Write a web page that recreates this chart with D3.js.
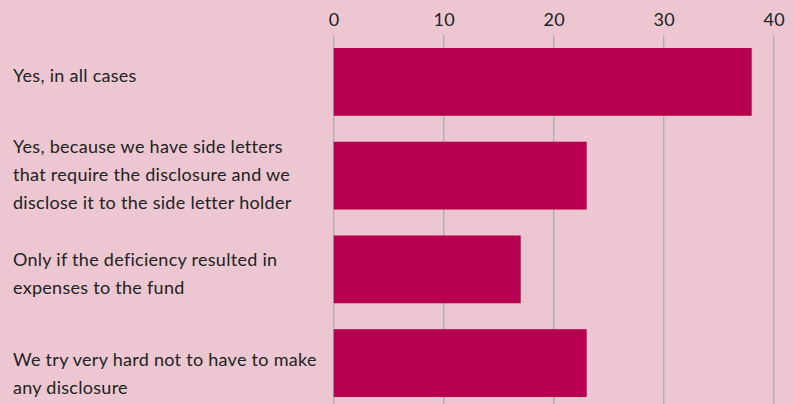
<!DOCTYPE html>
<html><head><meta charset="utf-8">
<script src="https://cdn.jsdelivr.net/npm/d3@7"></script>
<style>html,body{margin:0;padding:0;background:#ecc7d1;}svg{display:block;}</style>
</head><body>
<script>
const categories = [
  ["Yes, in all cases"],
  ["Yes, because we have side letters","that require the disclosure and we","disclose it to the side letter holder"],
  ["Only if the deficiency resulted in","expenses to the fund"],
  ["We try very hard not to have to make","any disclosure"]
];
const values = [38, 23, 17, 23];
const tickValues = [0, 10, 20, 30, 40];
const labelShift = [0, -23, -3, 3];

const W = 794, H = 404;
const svg = d3.select("body").append("svg").attr("width", W).attr("height", H);
svg.append("rect").attr("width", W).attr("height", H).attr("fill", "#ecc7d1");

const x = d3.scaleLinear().domain([0, 40]).range([333.7, 773.7]);
const y = d3.scaleBand().domain(d3.range(values.length)).range([34.5, 410.5]).paddingInner(26/94).paddingOuter(13.5/94);

svg.append("g").selectAll("line").data(tickValues).join("line")
  .attr("x1", d => x(d)).attr("x2", d => x(d))
  .attr("y1", 35).attr("y2", H)
  .attr("stroke", "#b0abad").attr("stroke-width", 1.3);

const axis = d3.axisTop(x).tickValues(tickValues).tickSize(0).tickPadding(0);
const ag = svg.append("g").attr("transform", "translate(0,26)").call(axis);
ag.select(".domain").remove();
ag.selectAll("text").attr("font-family", "Lato, sans-serif").attr("font-size", 18)
  .attr("fill", "#222").attr("dy", 0).attr("letter-spacing", 0.3);

svg.append("g").selectAll("rect").data(values).join("rect")
  .attr("x", x(0)).attr("y", (d, i) => y(i))
  .attr("width", d => x(d) - x(0)).attr("height", y.bandwidth())
  .attr("fill", "#b6004f");

const lg = svg.append("g");
categories.forEach((lines, i) => {
  const c = y(i) + y.bandwidth() / 2 + labelShift[i];
  const t = lg.append("text").attr("font-family", "Lato, sans-serif").attr("font-size", 18)
    .attr("fill", "#222").attr("letter-spacing", 0.28);
  lines.forEach((ln, j) => {
    t.append("tspan").attr("x", 13).attr("y", c + j * 28).text(ln);
  });
});
</script>
</body></html>
